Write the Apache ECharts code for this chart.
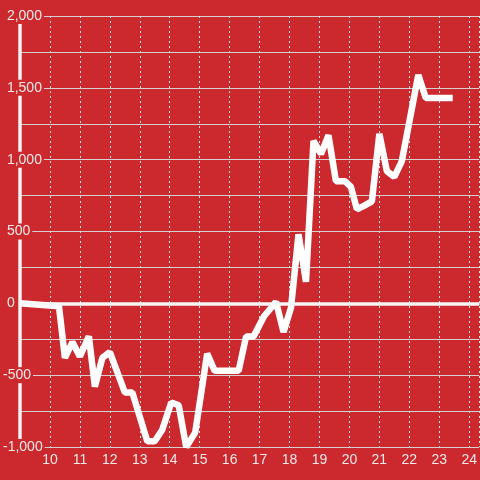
<!DOCTYPE html>
<html>
<head>
<meta charset="utf-8">
<script src="https://cdn.jsdelivr.net/npm/echarts@6/dist/echarts.min.js"></script>
<style>
html,body{margin:0;padding:0;background:#cc292e;}
#chart{width:480px;height:480px;}
</style>
</head>
<body>
<div id="chart"></div>
<script>
// Hour of day (x) and cumulative value (y)
var hours = [9.0, 10.3, 10.5, 10.75, 11.0, 11.3, 11.5, 11.75, 12.0, 12.5, 12.75, 13.25, 13.5, 13.75, 14.05, 14.3, 14.55, 14.85, 15.25, 15.5, 16.3, 16.55, 16.8, 17.15, 17.55, 17.8, 18.05, 18.3, 18.55, 18.8, 19.05, 19.3, 19.55, 19.85, 20.05, 20.25, 20.5, 20.75, 21.0, 21.25, 21.5, 21.75, 22.3, 22.55, 23.45];
var values = [0, -20, -380, -270, -370, -230, -580, -380, -340, -620, -620, -960, -960, -880, -690, -710, -1000, -900, -350, -470, -470, -230, -230, -90, 10, -200, -30, 480, 150, 1130, 1040, 1170, 850, 850, 810, 655, 680, 710, 1180, 920, 880, 990, 1590, 1430, 1430];
var xTicks = [10, 11, 12, 13, 14, 15, 16, 17, 18, 19, 20, 21, 22, 23, 24];
var yLabelTicks = [-1000, -500, 0, 500, 1000, 1500, 2000];

var points = hours.map(function (h, i) { return [h, values[i]]; });
var bg = '#cc292e';

var chart = echarts.init(document.getElementById('chart'), null, {renderer: 'canvas'});
chart.setOption({
  backgroundColor: bg,
  animation: false,
  grid: {left: 20, right: 0, top: 16, bottom: 33, containLabel: false},
  xAxis: {
    type: 'value', min: 9, max: 24.3333, interval: 1, z: 0,
    axisLine: {show: true, lineStyle: {color: '#cfcfcf', width: 1.5}},
    axisTick: {show: false},
    axisLabel: {
      color: '#f4e8e8', fontSize: 14, fontFamily: 'Liberation Sans, Arial, sans-serif', margin: 6,
      showMinLabel: false, showMaxLabel: false,
      formatter: function (v) { return xTicks.indexOf(v) >= 0 ? String(v) : ''; }
    },
    splitLine: {show: true, lineStyle: {color: '#f0e4e4', width: 1, type: [2, 3]}}
  },
  yAxis: [{
    type: 'value', min: -1000, max: 2000, interval: 250, z: 0,
    axisLine: {show: false}, axisTick: {show: false}, axisLabel: {show: false},
    splitLine: {show: true, lineStyle: {color: '#d6d0d0', width: 1}}
  }, {
    type: 'value', min: -1000, max: 2000, interval: 500, position: 'left', z: 1,
    axisLine: {show: true, lineStyle: {color: '#f2f2f2', width: 3.5}},
    axisTick: {show: false},
    splitLine: {show: false},
    axisLabel: {
      color: '#f4e8e8', fontSize: 14, fontFamily: 'Liberation Sans, Arial, sans-serif',
      align: 'left', margin: 17, lineHeight: 16,
      backgroundColor: bg, padding: [0, 2, 0, 0],
      formatter: function (v) {
        if (yLabelTicks.indexOf(v) < 0) return '';
        var s = Math.abs(v).toLocaleString('en-US');
        return v < 0 ? '-' + s : ' ' + s;
      }
    }
  }],
  series: [{
    type: 'line', data: points, yAxisIndex: 0, z: 2,
    symbol: 'none', smooth: false,
    lineStyle: {color: '#ffffff', width: 6.5, join: 'bevel', cap: 'butt'},
    markLine: {
      silent: true, symbol: 'none', label: {show: false},
      lineStyle: {color: '#f7f7f7', width: 3.5, type: 'solid'},
      data: [{yAxis: 0}]
    }
  }]
});
</script>
</body>
</html>
